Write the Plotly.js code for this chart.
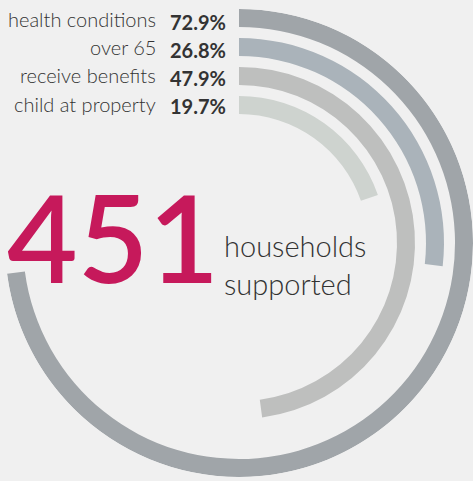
<!DOCTYPE html>
<html>
<head>
<meta charset="utf-8">
<script src="https://cdn.plot.ly/plotly-3.0.1.min.js"></script>
<style>
  html, body { margin: 0; padding: 0; background: #f0f0f0; }
  #chart { width: 473px; height: 481px; }
</style>
</head>
<body>
<div id="chart"></div>
<script>
// ---- data ----
const categories = ["health conditions", "over 65", "receive benefits", "child at property"];
const percentages = [72.9, 26.8, 47.9, 19.7];
const headlineValue = "451";
const headlineLines = ["households", "supported"];
const ringColors = ["#a0a5a9", "#aab3ba", "#bebfbe", "#ced3cf"];

// ---- layout helpers ----
const W = 473, H = 481;
const px = x => x / W;
const py = y => 1 - y / H;

const ringWidth = 18;
const ringPitch = 29;
const outerInner = 216;

const traces = categories.map((c, i) => {
  const deg = percentages[i] * 3.6;
  return {
    type: 'barpolar',
    name: c,
    r: [ringWidth],
    base: [outerInner - i * ringPitch],
    theta: [deg / 2],
    width: [deg],
    marker: { color: ringColors[i], line: { width: 0 } },
    hoverinfo: 'skip',
    showlegend: false
  };
});

const labelY = [19, 47, 75, 104];
const pctY = [22, 50, 78, 106];
const annotations = [];
categories.forEach((c, i) => {
  annotations.push({
    xref: 'paper', yref: 'paper', x: px(158), y: py(labelY[i]),
    xanchor: 'right', yanchor: 'middle', showarrow: false,
    text: c, font: { family: 'Lato, sans-serif', size: 20, weight: 300, color: '#333333' }
  });
  annotations.push({
    xref: 'paper', yref: 'paper', x: px(168), y: py(pctY[i]),
    xanchor: 'left', yanchor: 'middle', showarrow: false,
    text: '<b>' + percentages[i].toFixed(1) + '%</b>',
    font: { family: 'Lato, sans-serif', size: 20, color: '#333333' }
  });
});
annotations.push({
  xref: 'paper', yref: 'paper', x: px(5), y: py(236),
  xanchor: 'left', yanchor: 'middle', showarrow: false,
  text: headlineValue,
  font: { family: 'Lato, sans-serif', size: 122, weight: 600, color: '#c6195b' }
});
annotations.push({
  xref: 'paper', yref: 'paper', x: px(222), y: py(264),
  xanchor: 'left', yanchor: 'middle', showarrow: false, align: 'left',
  text: headlineLines.join('<br>'),
  font: { family: 'Lato, sans-serif', size: 29, weight: 300, color: '#333333' }
});

const layout = {
  width: W, height: H,
  margin: { l: 0, r: 0, t: 0, b: 0 },
  paper_bgcolor: '#f0f0f0',
  plot_bgcolor: '#f0f0f0',
  showlegend: false,
  polar: {
    domain: { x: [5 / W, 1], y: [4 / H, 472 / H] },
    bgcolor: 'rgba(0,0,0,0)',
    hole: 0,
    bargap: 0,
    radialaxis: { range: [0, 234], visible: false, showgrid: false },
    angularaxis: {
      direction: 'clockwise', rotation: 90,
      visible: false, showgrid: false, showline: false, ticks: ''
    }
  },
  annotations: annotations
};

Plotly.newPlot('chart', traces, layout, { displayModeBar: false, staticPlot: true });
</script>
</body>
</html>
